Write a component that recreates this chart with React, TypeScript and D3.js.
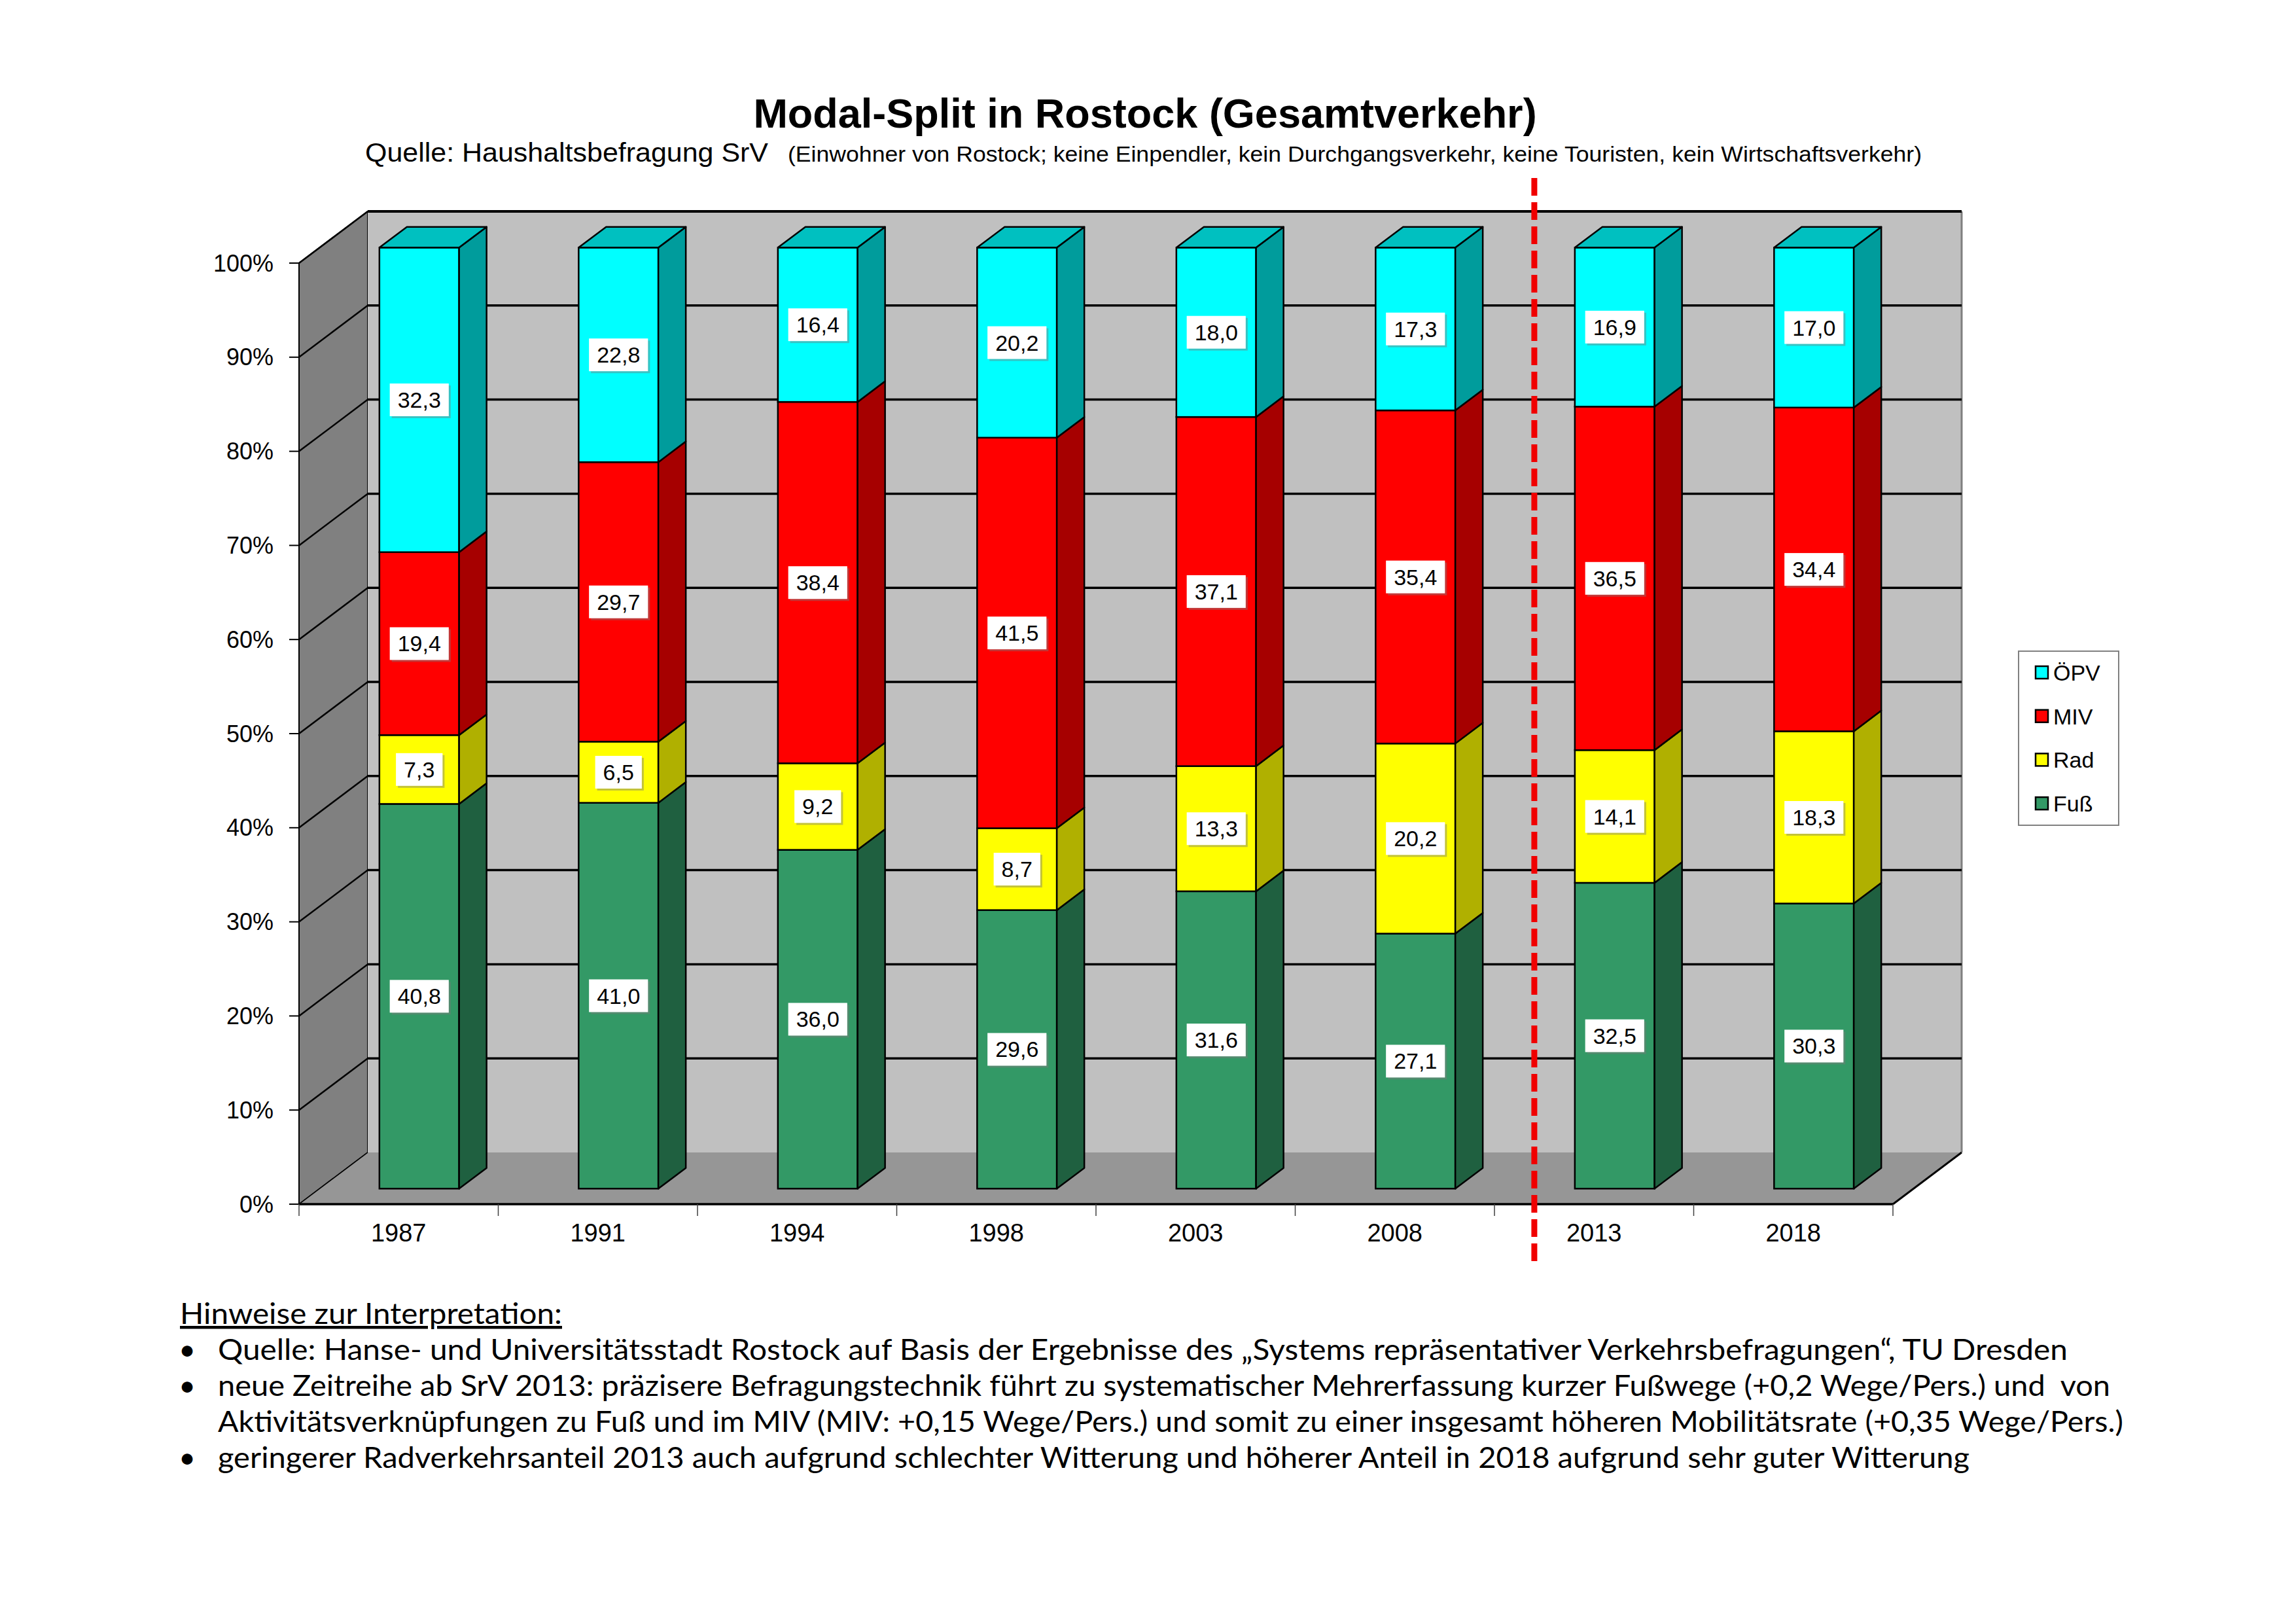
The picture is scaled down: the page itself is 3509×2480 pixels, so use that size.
import React from "react";
import * as d3 from "d3";

// chart values
const years = ["1987", "1991", "1994", "1998", "2003", "2008", "2013", "2018"];
const fuss = [40.8, 41.0, 36.0, 29.6, 31.6, 27.1, 32.5, 30.3];
const rad = [7.3, 6.5, 9.2, 8.7, 13.3, 20.2, 14.1, 18.3];
const miv = [19.4, 29.7, 38.4, 41.5, 37.1, 35.4, 36.5, 34.4];
const oepv = [32.3, 22.8, 16.4, 20.2, 18.0, 17.3, 16.9, 17.0];
const seriesKeys = ["Fuß", "Rad", "MIV", "ÖPV"];
const legendOrder = ["ÖPV", "MIV", "Rad", "Fuß"];
const breakBefore = "2013";

const title = "Modal-Split in Rostock (Gesamtverkehr)";
const subtitleA = "Quelle: Haushaltsbefragung SrV";
const subtitleB =
  "(Einwohner von Rostock; keine Einpendler, kein Durchgangsverkehr, keine Touristen, kein Wirtschaftsverkehr)";
const notesHeading = "Hinweise zur Interpretation:";
const notes = [
  { bullet: true, text: "Quelle: Hanse- und Universitätsstadt Rostock auf Basis der Ergebnisse des „Systems repräsentativer Verkehrsbefragungen“, TU Dresden" },
  { bullet: true, text: "neue Zeitreihe ab SrV 2013: präzisere Befragungstechnik führt zu systematischer Mehrerfassung kurzer Fußwege (+0,2 Wege/Pers.) und  von" },
  { bullet: false, text: "Aktivitätsverknüpfungen zu Fuß und im MIV (MIV: +0,15 Wege/Pers.) und somit zu einer insgesamt höheren Mobilitätsrate (+0,35 Wege/Pers.)" },
  { bullet: true, text: "geringerer Radverkehrsanteil 2013 auch aufgrund schlechter Witterung und höherer Anteil in 2018 aufgrund sehr guter Witterung" },
];
const noteEnds = [3160, 3225, 3245, 3010];

const colors: Record<string, { front: string; side: string; top: string }> = {
  "ÖPV": { front: "#00FFFF", side: "#009C9C", top: "#00C0C0" },
  MIV: { front: "#FF0000", side: "#A60000", top: "#C00000" },
  Rad: { front: "#FFFF00", side: "#B0B000", top: "#C8C800" },
  "Fuß": { front: "#339966", side: "#1F6040", top: "#287850" },
};

const W = 3509;
const H = 2480;
const FONT = "'Liberation Sans', Arial, sans-serif";
const NOTE_FONT = "Lato, 'Noto Sans', sans-serif";

// 3D geometry
const DX = 105;
const DY = 79;
const barD0 = 0.3;
const barDepth = 0.4;

const locale = d3.formatLocale({ decimal: ",", thousands: ".", grouping: [3], currency: ["", "€"] });
const fmt = locale.format(".1f");

const charW = (s: string, fs: number) =>
  Array.from(s).reduce((a, c) => a + (c === "," ? 0.278 : 0.556), 0) * fs;

export default function App() {
  const rows = years.map((y, i) => ({
    year: y,
    "Fuß": fuss[i],
    Rad: rad[i],
    MIV: miv[i],
    "ÖPV": oepv[i],
  }));
  const stacked = d3
    .stack<any>()
    .keys(seriesKeys)
    .offset(d3.stackOffsetExpand)(rows);

  const x = d3.scaleBand().domain(years).range([457, 2893]).paddingInner(0).paddingOuter(0);
  const y = d3.scaleLinear().domain([0, 1]).range([1840, 402]);
  const ticks = y.ticks(10);
  const x0 = x.range()[0];
  const x1 = x.range()[1];
  const bw = x.bandwidth();
  const barW = bw * 0.4;
  const bdx = DX * barDepth;
  const bdy = DY * barDepth;

  const poly = (pts: [number, number][]) => d3.line()(pts.concat([pts[0]])) as string;

  const walls = (
    <g>
      {/* left wall */}
      <path
        d={poly([[x0, y(0)], [x0, y(1)], [x0 + DX, y(1) - DY], [x0 + DX, y(0) - DY]])}
        fill="#808080"
        stroke="#000"
        strokeWidth={2}
      />
      {/* back wall */}
      <rect x={x0 + DX} y={y(1) - DY} width={x1 - x0} height={y(0) - y(1)} fill="#C0C0C0" />
      <line x1={x1 + DX} x2={x1 + DX} y1={y(1) - DY} y2={y(0) - DY} stroke="#808080" strokeWidth={3} />
      {/* floor */}
      <path
        d={poly([[x0, y(0)], [x1, y(0)], [x1 + DX, y(0) - DY], [x0 + DX, y(0) - DY]])}
        fill="#969696"
      />
      <line x1={x1} y1={y(0)} x2={x1 + DX} y2={y(0) - DY} stroke="#000" strokeWidth={3} />
      <line x1={x0} y1={y(0)} x2={x1} y2={y(0)} stroke="#000" strokeWidth={3.5} />
      {/* gridlines */}
      {ticks.map((t) => (
        <g key={t}>
          <line
            x1={x0}
            y1={y(t)}
            x2={x0 + DX}
            y2={y(t) - DY}
            stroke="#000"
            strokeWidth={t === 0 ? 1.5 : 2.5}
          />
          {t > 0 && (
            <line
              x1={x0 + DX}
              x2={x1 + DX}
              y1={y(t) - DY}
              y2={y(t) - DY}
              stroke="#000"
              strokeWidth={t === 1 ? 4 : 3.5}
            />
          )}
        </g>
      ))}
    </g>
  );

  const bars = years.map((yr, i) => {
    const xl = (x(yr) as number) + (bw - barW) / 2 + barD0 * DX;
    const xr = xl + barW;
    const shift = barD0 * DY;
    return (
      <g key={yr}>
        {stacked.map((s, si) => {
          const d = s[i];
          const yb = y(d[0]) - shift;
          const yt = y(d[1]) - shift;
          const c = colors[s.key];
          const isTop = si === stacked.length - 1;
          return (
            <g key={s.key}>
              <rect x={xl} y={yt} width={barW} height={yb - yt} fill={c.front} stroke="#000" strokeWidth={2.5} />
              <path
                d={poly([[xr, yt], [xr, yb], [xr + bdx, yb - bdy], [xr + bdx, yt - bdy]])}
                fill={c.side}
                stroke="#000"
                strokeWidth={2.5}
                strokeLinejoin="round"
              />
              {isTop && (
                <path
                  d={poly([[xl, yt], [xr, yt], [xr + bdx, yt - bdy], [xl + bdx, yt - bdy]])}
                  fill={c.top}
                  stroke="#000"
                  strokeWidth={2.5}
                  strokeLinejoin="round"
                />
              )}
            </g>
          );
        })}
      </g>
    );
  });

  const labels = years.map((yr, i) => {
    const cx = (x(yr) as number) + bw / 2 + barD0 * DX;
    const shift = barD0 * DY;
    return (
      <g key={yr}>
        {stacked.map((s) => {
          const d = s[i];
          const cy = (y(d[0]) + y(d[1])) / 2 - shift;
          const txt = fmt((d.data as any)[s.key]);
          const bwid = charW(txt, 34) + 24;
          const bh = 50;
          return (
            <g key={s.key}>
              <rect x={cx - bwid / 2 + 3} y={cy - bh / 2 + 3} width={bwid} height={bh} fill="#7a7a7a" opacity={0.45} />
              <rect x={cx - bwid / 2} y={cy - bh / 2} width={bwid} height={bh} fill="#fff" />
              <text
                x={cx}
                y={cy}
                textAnchor="middle"
                dominantBaseline="central"
                fontFamily={FONT}
                fontSize={34}
                fill="#000"
              >
                {txt}
              </text>
            </g>
          );
        })}
      </g>
    );
  });

  const axes = (
    <g fontFamily={FONT} fill="#000">
      {ticks.map((t) => (
        <g key={t}>
          <line x1={x0 - 15} x2={x0} y1={y(t)} y2={y(t)} stroke="#000" strokeWidth={2} />
          <text x={418} y={y(t)} textAnchor="end" dominantBaseline="central" fontSize={36}>
            {d3.format(".0%")(t)}
          </text>
        </g>
      ))}
      {years.concat([""]).map((yr, i) => {
        const tx = x0 + i * bw;
        return <line key={"t" + i} x1={tx} x2={tx} y1={y(0)} y2={y(0) + 18} stroke="#404040" strokeWidth={1.5} />;
      })}
      {years.map((yr) => (
        <text key={yr} x={(x(yr) as number) + bw / 2} y={1897} textAnchor="middle" fontSize={38}>
          {yr}
        </text>
      ))}
    </g>
  );

  const legend = (
    <g fontFamily={FONT}>
      <rect x={3085} y={995} width={153} height={266} fill="#fff" stroke="#808080" strokeWidth={2} />
      {legendOrder.map((k, i) => {
        const cy = 1028 + i * 66.7;
        return (
          <g key={k}>
            <rect x={3111} y={cy - 10} width={19} height={19} fill={colors[k].front} stroke="#000" strokeWidth={2.5} />
            <text x={3138} y={cy} dominantBaseline="central" fontSize={34} fill="#000">
              {k}
            </text>
          </g>
        );
      })}
    </g>
  );

  const breakX = (x(breakBefore) as number) + 0.58 * DX;

  return (
    <svg
      width={W}
      height={H}
      viewBox={`0 0 ${W} ${H}`}
      style={{ position: "absolute", left: 0, top: 0, background: "#fff" }}
    >
      <rect width={W} height={H} fill="#fff" />
      <text x={1750} y={195} textAnchor="middle" fontFamily={FONT} fontWeight="bold" fontSize={63} fill="#000">
        {title}
      </text>
      <text x={558} y={247} fontFamily={FONT} fontSize={40} fill="#000" textLength={616} lengthAdjust="spacingAndGlyphs">
        {subtitleA}
      </text>
      <text x={1204} y={247} fontFamily={FONT} fontSize={33} fill="#000" textLength={1733} lengthAdjust="spacingAndGlyphs">
        {subtitleB}
      </text>
      {walls}
      {bars}
      {labels}
      {axes}
      {legend}
      <line
        x1={breakX}
        x2={breakX}
        y1={272}
        y2={1928}
        stroke="#F00000"
        strokeWidth={9}
        strokeDasharray="27,10"
      />
      <g fontFamily={NOTE_FONT} fontSize={45} fill="#000">
        <text x={275} y={2023} textDecoration="underline" textLength={584} lengthAdjust="spacingAndGlyphs">
          {notesHeading}
        </text>
        {notes.map((n, i) => {
          const by = 2078 + i * 55;
          return (
            <g key={i}>
              {n.bullet && (
                <text x={273} y={by}>
                  •
                </text>
              )}
              <text
                x={333}
                y={by}
                style={{ whiteSpace: "pre" }}
                textLength={noteEnds[i] - 333}
                lengthAdjust="spacingAndGlyphs"
              >
                {n.text}
              </text>
            </g>
          );
        })}
      </g>
    </svg>
  );
}
